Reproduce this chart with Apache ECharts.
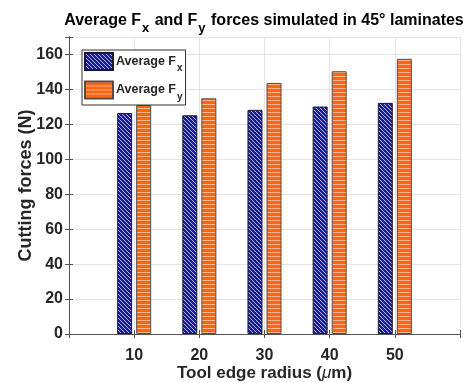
<!DOCTYPE html>
<html>
<head>
<meta charset="utf-8">
<script src="https://cdn.jsdelivr.net/npm/echarts@6/dist/echarts.min.js"></script>
<style>
  html, body { margin: 0; padding: 0; background: #fff; }
  #chart { width: 473px; height: 383px; }
</style>
</head>
<body>
<div id="chart"></div>
<script>
const radius = [10, 20, 30, 40, 50]
const forceFx = [126.5, 125.2, 128.3, 130.2, 132.3]
const forceFy = [131.1, 134.9, 143.7, 150.4, 157.5]
const yTicks = [0, 20, 40, 60, 80, 100, 120, 140, 160]

const txt = '#262626'
const font = 'Liberation Sans, Arial, sans-serif'

// small canvas hatch patterns, matlab-like
function diagPattern(bg, fg, step) {
  const c = document.createElement('canvas')
  c.width = step; c.height = step
  const g = c.getContext('2d')
  g.fillStyle = bg
  g.fillRect(0, 0, step, step)
  g.fillStyle = fg
  for (let i = 0; i < step; i++) g.fillRect(i, i, 1, 1)
  return c
}
function horizPattern(bg, fg, step) {
  const c = document.createElement('canvas')
  c.width = step; c.height = step
  const g = c.getContext('2d')
  g.fillStyle = bg
  g.fillRect(0, 0, step, step)
  g.fillStyle = fg
  g.fillRect(0, 0, step, 1)
  return c
}

const blueFill = { image: diagPattern('#1c1c9e', '#aeb2ec', 4), repeat: 'repeat' }
const orangeFill = { image: horizPattern('#ff6410', '#f7b58c', 4), repeat: 'repeat' }

const rich = {
  a: { fontFamily: font, fontWeight: 'bold', fontSize: 12.5, color: txt },
  s: { fontFamily: font, fontWeight: 'bold', fontSize: 10, color: txt, padding: [14, 0, 0, 1] },
}
const titleRich = {
  a: { fontFamily: font, fontWeight: 'bold', fontSize: 16, color: '#000' },
  s: { fontFamily: font, fontWeight: 'bold', fontSize: 13, color: '#000', padding: [15, 1, 0, 1] },
}

const chart = echarts.init(document.getElementById('chart'), null, { renderer: 'canvas' })

const option = {
  animation: false,
  backgroundColor: '#fff',
  title: {
    text: '{a|Average F}{s|x}{a| and F}{s|y}{a| forces simulated in 45° laminates}',
    left: 259,
    textAlign: 'center',
    top: 2,
    textStyle: { rich: titleRich },
  },
  legend: {
    orient: 'vertical',
    left: 82,
    top: 50,
    padding: [2, 3, 3, 2],
    itemWidth: 28,
    itemHeight: 17,
    itemGap: 7,
    icon: 'rect',
    borderColor: '#333',
    borderWidth: 1,
    backgroundColor: '#fff',
    data: ['Average Fx', 'Average Fy'],
    formatter: n => '{a|Average F}{s|' + n.slice(-1) + '}',
    textStyle: { rich: rich, padding: [0, 0, 0, -2] },
  },
  grid: { left: 69, right: 13, top: 37, bottom: 49, containLabel: false, outerBoundsMode: 'none' },
  xAxis: [{
    type: 'value',
    min: 0, max: 60, interval: 10,
    name: '{n|Tool edge radius (}{i|μ}{n|m)}',
    nameLocation: 'middle',
    nameGap: 31,
    nameMoveOverlap: false,
    nameTextStyle: {
      rich: {
        n: { fontFamily: font, fontSize: 17, fontWeight: 'bold', color: txt },
        i: { fontFamily: font, fontSize: 17, fontStyle: 'italic', color: txt },
      },
    },
    axisLine: { show: true, lineStyle: { color: '#555', width: 1 } },
    axisTick: { show: true, inside: true, length: 4, lineStyle: { color: '#555' } },
    axisLabel: {
      margin: 14,
      fontFamily: font, fontSize: 16, fontWeight: 'bold', color: txt,
      formatter: v => (radius.indexOf(v) >= 0 ? String(v) : ''),
    },
    splitLine: { show: true, lineStyle: { color: '#e4e4e4' } },
  }, {
    type: 'value',
    position: 'top',
    min: 0, max: 60, interval: 10,
    axisLine: { show: true, lineStyle: { color: '#555', width: 1 } },
    axisTick: { show: true, inside: true, length: 4, lineStyle: { color: '#555' } },
    axisLabel: { show: false },
    splitLine: { show: false },
  }],
  yAxis: [{
    type: 'value',
    min: 0, max: 170, interval: 20,
    name: 'Cutting forces (N)',
    nameLocation: 'middle',
    nameGap: 34,
    nameMoveOverlap: false,
    nameTextStyle: {
      fontFamily: font, fontSize: 18, fontWeight: 'bold', color: txt,
    },
    axisLine: { show: true, lineStyle: { color: '#555', width: 1 } },
    axisTick: { show: true, inside: true, length: 4, lineStyle: { color: '#555' } },
    axisLabel: {
      margin: 6,
      fontFamily: font, fontSize: 16, fontWeight: 'bold', color: txt,
      formatter: v => (yTicks.indexOf(v) >= 0 ? String(v) : ''),
    },
    splitLine: { show: true, lineStyle: { color: '#e4e4e4' } },
  }, {
    type: 'value',
    position: 'right',
    min: 0, max: 170, interval: 20,
    axisLine: { show: true, lineStyle: { color: '#555', width: 1 } },
    axisTick: { show: true, inside: true, length: 4, lineStyle: { color: '#555' } },
    axisLabel: { show: false },
    splitLine: { show: false },
  }],
  series: [{
    name: 'Average Fx',
    type: 'bar',
    xAxisIndex: 0, yAxisIndex: 0,
    barWidth: 15,
    barGap: '27%',
    itemStyle: { color: blueFill, borderColor: '#1a1a2a', borderWidth: 1 },
    data: radius.map((r, i) => [r, forceFx[i]]),
  }, {
    name: 'Average Fy',
    type: 'bar',
    xAxisIndex: 0, yAxisIndex: 0,
    barWidth: 15,
    barGap: '27%',
    itemStyle: { color: orangeFill, borderColor: '#5a4a44', borderWidth: 1 },
    data: radius.map((r, i) => [r, forceFy[i]]),
  }],
}

chart.setOption(option)
</script>
</body>
</html>
